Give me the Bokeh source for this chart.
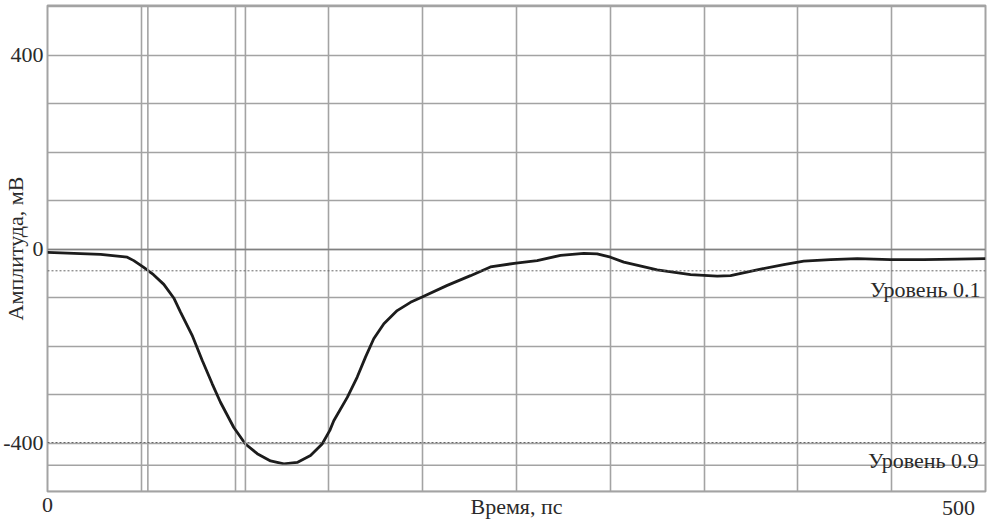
from bokeh.plotting import figure
from bokeh.models import Range1d, Span, Label, FixedTicker, ColumnDataSource, LinearAxis
from bokeh.embed import file_html
from bokeh.resources import INLINE

# ---- data ----
time_ps = [0, 28.3, 42.5, 46, 51.3, 56.5, 62, 67.3, 70.9, 77.1, 82.5, 87.8, 92.2,
           99.3, 105.5, 111.8, 118.9, 126, 133.1, 140.2, 146.4, 150.5, 152.6,
           159.8, 165.1, 169.5, 173.9, 179.3, 186.4, 193.5, 199.7, 213.1, 225.5,
           236.1, 249.8, 261, 273.5, 285.9, 293, 300.1, 307.2, 325, 342.8, 357,
           364.1, 378.3, 392.5, 403.1, 417.4, 431.6, 449.4, 467.1, 484.9, 500]
amp_mv = [-6, -10, -16, -23, -37, -52, -72, -100, -129, -177, -229, -277, -315,
          -367, -401, -421, -436, -442, -439, -425, -401, -373, -353,
          -305, -263, -222, -184, -153, -126, -109, -98, -74, -54,
          -36, -28, -23, -12, -8, -9, -16, -26, -42, -52, -55,
          -54, -42, -31, -24, -21, -19, -21, -21, -20, -19]

x_ticks = [0, 500]
y_ticks = [400, 0, -400]
y_tick_labels = {400: "400", 0: "0", -400: "-400"}
level_values = [-44, -398]          # 0.1 and 0.9 of the pulse amplitude
level_names = ["Уровень 0.1", "Уровень 0.9"]
min_level = -445
marker_times = [53.5, 105.5]

FONT = "Liberation Serif"
FS = "22px"
TXT = "#2a2a2a"
GRID = "#a3a3a3"

p = figure(width=988, height=522, output_backend="svg", toolbar_location=None,
           x_range=Range1d(0, 500), y_range=Range1d(-499, 503),
           x_axis_location=None, y_axis_location=None,
           min_border_left=47, min_border_right=3, min_border_top=5,
           min_border_bottom=31)
p.outline_line_color = GRID
p.outline_line_width = 2
p.background_fill_color = "white"
p.border_fill_color = "white"


def style_axis(ax):
    ax.axis_line_color = None
    ax.major_tick_line_color = None
    ax.minor_tick_line_color = None
    ax.major_tick_out = 0
    ax.major_tick_in = 0
    ax.minor_tick_out = 0
    ax.minor_tick_in = 0
    ax.major_label_text_font = FONT
    ax.major_label_text_font_size = FS
    ax.major_label_text_color = TXT
    ax.axis_label_text_font = FONT
    ax.axis_label_text_font_size = FS
    ax.axis_label_text_font_style = "normal"
    ax.axis_label_text_color = TXT


# y axis with title placed close to the tick labels
yax = LinearAxis(ticker=FixedTicker(ticks=y_ticks), axis_label="Амплитуда, мВ",
                 major_label_overrides=y_tick_labels)
style_axis(yax)
yax.major_label_standoff = 4
yax.axis_label_standoff = -28
p.add_layout(yax, "left")

# x axis: first tick label centred, last one right-aligned, title on the same row
xax0 = LinearAxis(ticker=FixedTicker(ticks=x_ticks[:1]))
style_axis(xax0)
xax0.major_label_standoff = 6
p.add_layout(xax0, "below")

xax1 = LinearAxis(ticker=FixedTicker(ticks=x_ticks[1:]), axis_label="Время, пс")
style_axis(xax1)
xax1.major_label_text_align = "right"
xax1.major_label_standoff = -14
xax1.axis_label_standoff = -24
p.add_layout(xax1, "below")

p.xgrid.ticker = FixedTicker(ticks=list(range(0, 501, 50)))
p.ygrid.ticker = FixedTicker(ticks=list(range(-500, 501, 100)))
for g in (p.xgrid, p.ygrid):
    g.grid_line_color = GRID
    g.grid_line_width = 1.6

for t in marker_times:
    p.add_layout(Span(location=t, dimension="height", line_color=GRID, line_width=1.6))
p.add_layout(Span(location=0, dimension="width", line_color="#808080", line_width=1.6))
p.add_layout(Span(location=min_level, dimension="width", line_color=GRID, line_width=1.6))
for lv in level_values:
    p.add_layout(Span(location=lv, dimension="width", line_color="#666666",
                      line_width=1, line_dash="2 2"))

src = ColumnDataSource(data=dict(t=time_ps, a=amp_mv))
p.line("t", "a", source=src, line_color="#1c1c1c", line_width=2.8)

# level labels (inside the plot area)
for lv_y, x, name in [(-82.5, 497.3, level_names[0]), (-435, 496.3, level_names[1])]:
    p.add_layout(Label(x=x, y=lv_y, text=name, text_align="right",
                       text_baseline="alphabetic", text_font=FONT,
                       text_font_size=FS, text_color=TXT))

open("out.html", "w").write(file_html(p, INLINE))
